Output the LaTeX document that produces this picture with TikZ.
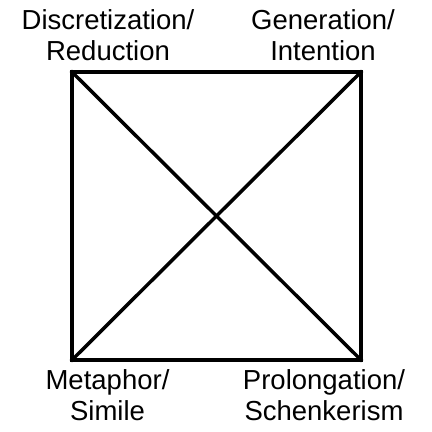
\documentclass[tikz,border=0pt]{standalone}
\usepackage{fontspec}
\setmainfont{Liberation Sans}
\begin{document}
\begin{tikzpicture}[x=1pt,y=1pt,
  lbl/.style={inner sep=0pt, outer sep=0pt, align=center, anchor=base, font=\fontsize{27.5}{31}\selectfont},
  edge/.style={line width=3.5pt, line cap=rect, line join=miter}]
\useasboundingbox (0,0) rectangle (432,432);
\coordinate (tl) at (72,360);
\coordinate (tr) at (361,360);
\coordinate (bl) at (72,72);
\coordinate (br) at (361,72);
\draw[edge] (tl) -- (tr) -- (br) -- (bl) -- cycle;
\draw[edge] (tl) -- (br);
\draw[edge] (tr) -- (bl);
\node[lbl] (disc) at (108,371) {Discretization/\\Reduction};
\node[lbl] (gen) at (323,371) {Generation/\\Intention};
\node[lbl] (met) at (107.5,12) {Metaphor/\\Simile};
\node[lbl] (pro) at (324,12) {Prolongation/\\Schenkerism};
\end{tikzpicture}
\end{document}
